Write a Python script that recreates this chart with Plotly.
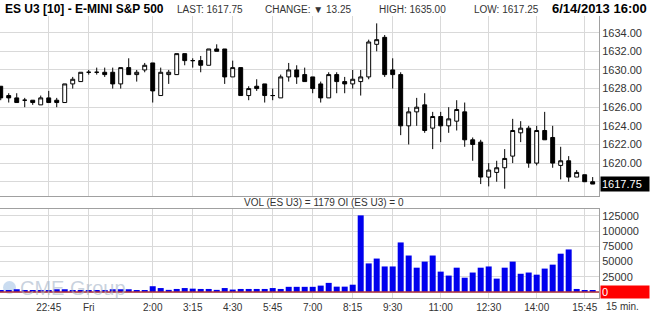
import plotly.graph_objects as go

# ---------------- data ----------------
times = ["21:15","21:30","21:45","22:00","22:15","22:30","22:45","23:00","23:15","23:30","23:45",
         "0:00","0:15","0:30","0:45","1:00","1:15","1:30","1:45","2:00","2:15","2:30","2:45",
         "3:00","3:15","3:30","3:45","4:00","4:15","4:30","4:45","5:00","5:15","5:30","5:45",
         "6:00","6:15","6:30","6:45","7:00","7:15","7:30","7:45","8:00","8:15","8:30","8:45",
         "9:00","9:15","9:30","9:45","10:00","10:15","10:30","10:45","11:00","11:15","11:30",
         "11:45","12:00","12:15","12:30","12:45","13:00","13:15","13:30","13:45","14:00",
         "14:15","14:30","14:45","15:00","15:15","15:45","16:00"]

opens = [1628.25,1627.25,1627.0,1626.75,1626.75,1626.25,1627.0,1626.75,1626.5,1628.5,
         1628.75,1629.75,1629.75,1629.75,1629.75,1628.5,1630.25,1629.5,1630.0,1630.75,
         1627.25,1629.5,1629.5,1631.75,1631.0,1631.0,1630.5,1632.25,1632.25,1629.25,
         1630.25,1627.25,1628.25,1628.5,1627.25,1627.0,1629.25,1630.0,1629.5,1629.25,
         1628.5,1627.0,1629.5,1628.75,1628.5,1628.75,1629.25,1632.75,1633.5,1630.0,
         1629.5,1624.0,1625.5,1626.25,1623.75,1625.0,1624.0,1624.5,1625.5,1622.5,
         1622.25,1618.5,1619.0,1619.5,1620.75,1623.25,1623.75,1620.0,1623.5,1622.75,
         1619.75,1620.25,1618.5,1618.75,1618.0]
highs = [1628.25,1627.5,1627.5,1627.0,1626.75,1627.25,1627.75,1627.0,1628.5,1629.25,
         1629.75,1630.0,1630.25,1630.25,1630.25,1630.25,1631.25,1630.0,1630.75,1630.75,
         1630.25,1630.0,1631.75,1631.75,1631.25,1631.5,1632.25,1632.75,1632.25,1631.0,
         1630.25,1628.25,1629.0,1628.5,1628.0,1629.5,1630.75,1630.5,1630.25,1629.25,
         1628.75,1629.75,1629.75,1629.25,1630.0,1630.0,1633.25,1635.0,1633.75,1631.25,
         1629.75,1626.0,1627.0,1627.5,1625.5,1625.5,1626.0,1626.75,1626.5,1622.75,
         1622.5,1620.0,1620.25,1621.5,1624.75,1624.5,1624.0,1624.0,1625.5,1624.0,
         1621.75,1620.75,1619.25,1618.75,1618.5]
lows = [1626.75,1626.5,1626.5,1626.0,1626.25,1626.25,1626.5,1626.0,1626.5,1628.0,
        1628.75,1629.5,1629.5,1629.25,1628.0,1628.0,1629.5,1628.75,1629.75,1626.5,
        1627.25,1628.5,1629.5,1630.5,1630.25,1629.75,1630.5,1632.0,1628.5,1629.25,
        1627.25,1626.75,1627.75,1626.5,1626.75,1627.0,1628.75,1628.5,1628.75,1627.5,
        1626.5,1627.0,1627.5,1627.5,1628.0,1627.25,1629.0,1632.0,1629.25,1628.0,
        1623.0,1622.0,1624.0,1623.25,1621.5,1622.25,1623.25,1623.5,1621.75,1620.25,
        1617.75,1617.5,1618.0,1617.25,1620.0,1622.25,1619.5,1619.75,1622.5,1619.5,
        1618.25,1618.0,1618.5,1618.0,1617.75]
closes = [1627.0,1627.0,1626.5,1626.75,1626.5,1627.0,1626.5,1626.5,1628.5,1629.0,
          1629.75,1629.75,1629.75,1629.5,1628.5,1630.25,1629.5,1629.75,1630.5,1627.75,
          1629.75,1629.75,1631.75,1631.0,1631.0,1630.5,1632.25,1632.0,1629.25,1630.25,
          1627.25,1628.0,1628.0,1627.25,1627.25,1629.25,1630.0,1629.25,1628.75,1628.0,
          1627.0,1629.5,1628.75,1628.5,1629.0,1629.25,1633.0,1633.25,1629.5,1629.5,
          1624.0,1625.5,1626.0,1623.5,1625.0,1624.0,1624.75,1625.75,1622.5,1622.0,
          1618.5,1619.25,1619.5,1620.5,1623.5,1623.75,1620.0,1623.5,1622.5,1620.0,
          1620.25,1618.5,1619.0,1618.0,1617.75]
volume = [3000,3000,4500,3000,3000,3000,3000,4500,4500,3000,
          3000,2500,3000,3000,4500,4500,4500,3000,2500,9500,
          6500,3500,5000,6500,5500,5000,5000,3500,6500,4000,
          5000,5000,5000,5000,6500,5000,8500,8500,8500,8500,
          10500,15000,8800,8800,12000,126000,47000,55000,42000,42000,
          81500,60000,40000,50000,60000,33500,27000,40000,23500,32000,
          40000,42000,22000,40000,50000,30000,32000,28500,38500,45000,
          63000,70000,5000,3300,3300]

x_tick_cats = ["22:45","0:00","2:00","3:15","4:30","5:45","7:00","8:15","9:30","11:00","12:30","14:00","15:45"]
x_tick_text = ["22:45","Fri","2:00","3:15","4:30","5:45","7:00","8:15","9:30","11:00","12:30","14:00","15:45"]
price_ticks = [1618,1620,1622,1624,1626,1628,1630,1632,1634]
price_tick_text = ["","1620.00","1622.00","1624.00","1626.00","1628.00","1630.00","1632.00","1634.00"]
vol_ticks = [0,25000,50000,75000,100000,125000]
vol_tick_text = ["","25000","50000","75000","100000","125000"]

title_text = "ES U3 [10] - E-MINI S&P 500"
last_price = 1617.75
header_items = ["LAST: 1617.75", "CHANGE: ▼ 13.25", "HIGH: 1635.00", "LOW: 1617.25"]
date_text = "6/14/2013 16:00"
vol_text = "VOL (ES U3) = 1179 OI (ES U3) = 0"

# ---------------- style ----------------
FONT = "Arial, Liberation Sans, sans-serif"
GRID = "#d9d9d9"
BORDER = "#a0a0a0"
TXT = "#333333"

W, H = 650, 317
ML, MR, MT, MB = 0, 51, 16, 19
PW = W - ML - MR
PH = H - MT - MB

def px_x(x):
    return (x - ML) / PW

def px_y(y):
    return (H - MB - y) / PH

fig = go.Figure()
fig.add_trace(go.Candlestick(
    x=times, open=opens, high=highs, low=lows, close=closes,
    xaxis="x2", yaxis="y",
    increasing=dict(line=dict(color="black", width=1), fillcolor="white"),
    decreasing=dict(line=dict(color="black", width=1), fillcolor="black"),
    whiskerwidth=0, showlegend=False, hoverinfo="skip"))
fig.add_trace(go.Bar(
    x=times, y=volume, xaxis="x", yaxis="y2",
    marker=dict(color="#0000ee", line=dict(width=0)),
    showlegend=False, hoverinfo="skip"))

price_dom = [px_y(195.7), 1.0]
vol_dom = [0.0, px_y(209)]

fig.update_layout(
    width=W, height=H,
    margin=dict(l=ML, r=MR, t=MT, b=MB),
    paper_bgcolor="white", plot_bgcolor="white",
    font=dict(family=FONT, color=TXT, size=11),
    bargap=0.25,
    xaxis=dict(domain=[0, 1], anchor="y2", type="category", range=[-0.09, 74.79],
               tickmode="array", tickvals=x_tick_cats, ticktext=x_tick_text,
               showgrid=True, gridcolor=GRID, gridwidth=1,
               showline=True, mirror=True, linecolor=BORDER, linewidth=1,
               ticks="", tickfont=dict(size=10, color=TXT, family=FONT),
               rangeslider=dict(visible=False), fixedrange=True),
    xaxis2=dict(domain=[0, 1], anchor="y", type="category", matches="x",
                tickmode="array", tickvals=x_tick_cats, showticklabels=False,
                showgrid=True, gridcolor=GRID, gridwidth=1,
                showline=True, linecolor=BORDER, linewidth=1, ticks="",
                rangeslider=dict(visible=False), fixedrange=True),
    yaxis=dict(domain=price_dom, anchor="x2", side="right", range=[1616.5, 1635.79],
               tickmode="array", tickvals=price_ticks, ticktext=price_tick_text,
               showgrid=True, gridcolor=GRID, gridwidth=1, zeroline=False,
               showline=True, linecolor=BORDER, linewidth=1, ticks="",
               tickfont=dict(size=11, color=TXT, family=FONT), fixedrange=True),
    yaxis2=dict(domain=vol_dom, anchor="x", side="right", range=[-9870, 136500],
                tickmode="array", tickvals=vol_ticks, ticktext=vol_tick_text,
                showgrid=True, gridcolor=GRID, gridwidth=1, zeroline=False,
                showline=True, linecolor=BORDER, linewidth=1, ticks="",
                tickfont=dict(size=11, color=TXT, family=FONT), fixedrange=True),
)

annotations = []
# header
annotations.append(dict(xref="paper", yref="paper", x=px_x(2.5), y=px_y(9), xanchor="left", yanchor="middle",
                        text="<b>%s</b>" % title_text, showarrow=False,
                        font=dict(size=12, color="black", family=FONT)))
header_x = [175, 263, 377, 472]
for txt, hx in zip(header_items, header_x):
    annotations.append(dict(xref="paper", yref="paper", x=px_x(hx), y=px_y(9.5), xanchor="left", yanchor="middle",
                            text=txt, showarrow=False, font=dict(size=10, color=TXT, family=FONT)))
annotations.append(dict(xref="paper", yref="paper", x=px_x(649), y=px_y(9), xanchor="right", yanchor="middle",
                        text="<b>%s</b>" % date_text, showarrow=False,
                        font=dict(size=13, color="black", family=FONT)))
# volume label
annotations.append(dict(xref="paper", yref="paper", x=px_x(324), y=px_y(202.7), xanchor="center", yanchor="middle",
                        text=vol_text, showarrow=False, font=dict(size=10, color=TXT, family=FONT)))
# 15 min.
annotations.append(dict(xref="paper", yref="paper", x=px_x(604), y=px_y(306), xanchor="left", yanchor="middle",
                        text="15 min.", showarrow=False, font=dict(size=10, color=TXT, family=FONT)))
# last price box
annotations.append(dict(xref="paper", yref="y", x=px_x(600), y=last_price, xanchor="left", yanchor="middle",
                        text="1617.75", showarrow=False, bgcolor="black", width=46, height=12, align="left",
                        borderpad=1, font=dict(size=11, color="white", family=FONT)))
# zero volume box
annotations.append(dict(xref="paper", yref="y2", x=px_x(600), y=0, xanchor="left", yanchor="middle",
                        text="0", showarrow=False, bgcolor="#ff0000", width=46, height=10, align="left",
                        borderpad=1, font=dict(size=11, color="white", family=FONT)))
# watermark
annotations.append(dict(xref="paper", yref="paper", x=px_x(18), y=px_y(288), xanchor="left", yanchor="middle",
                        text="CME Group", showarrow=False,
                        font=dict(size=20, color="rgba(165,180,200,0.6)", family=FONT)))
fig.update_layout(annotations=annotations)

fig.update_layout(shapes=[
    dict(type="circle", xref="paper", yref="paper", x0=px_x(3), x1=px_x(16), y0=px_y(294), y1=px_y(281),
         fillcolor="rgba(150,185,225,0.5)", line=dict(width=0), layer="below"),
    dict(type="line", xref="paper", yref="y2", x0=0, x1=1, y0=0, y1=0,
         line=dict(color="#b0303a", width=1.5), layer="above"),
])

fig.write_html("out.html")
